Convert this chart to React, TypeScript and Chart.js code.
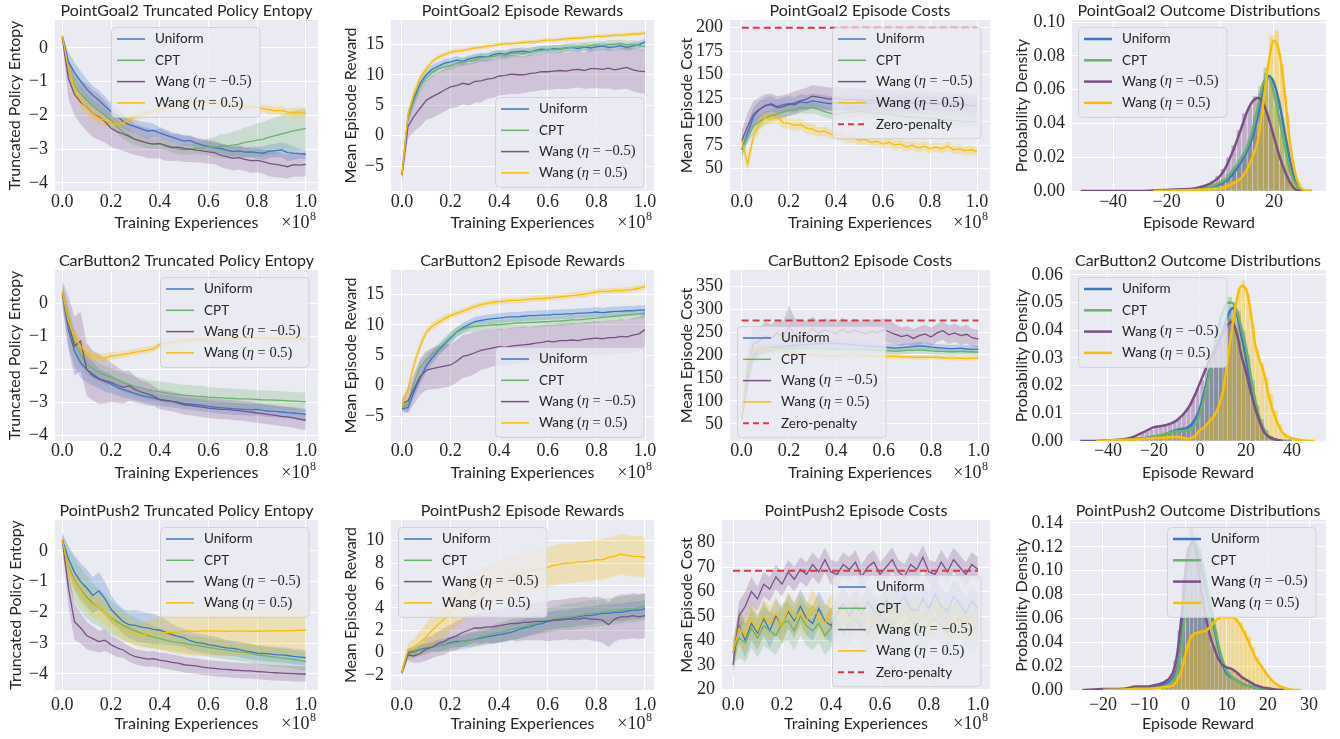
import React, { useEffect, useRef } from "react";
import { Chart, registerables } from "chart.js";

Chart.register(...registerables);

const SANS = "Lato, 'DejaVu Sans', sans-serif";
const SERIF = "'Liberation Serif', 'DejaVu Serif', serif";
const INK = "#262626";

const SERIES = ["Uniform", "CPT", "Wang (η = −0.5)", "Wang (η = 0.5)"];
const ZERO_LABEL = "Zero-penalty";
const COLORS = [[58, 118, 198], [108, 178, 108], [124, 80, 134], [248, 190, 0]];
const RED = "rgb(218,58,66)";

// training progress (x 1e8)
const STEPS = [0, 0.025, 0.05, 0.075, 0.1, 0.125, 0.15, 0.175, 0.2, 0.225, 0.25, 0.275, 0.3, 0.325, 0.35, 0.375, 0.4, 0.425, 0.45, 0.475, 0.5, 0.525, 0.55, 0.575, 0.6, 0.625, 0.65, 0.675, 0.7, 0.725, 0.75, 0.775, 0.8, 0.825, 0.85, 0.875, 0.9, 0.925, 0.95, 0.975, 1.0];
const TS_X_TICKS = [0, 0.2, 0.4, 0.6, 0.8, 1.0];

// ---------- PointGoal2 entropy ----------
const PG_ENT_U = [0.35, -0.42, -0.72, -0.98, -1.22, -1.4, -1.55, -1.72, -1.88, -2.02, -2.18, -2.28, -2.33, -2.4, -2.46, -2.44, -2.52, -2.58, -2.64, -2.7, -2.76, -2.74, -2.82, -2.88, -2.92, -2.96, -2.98, -3.03, -3.07, -3.05, -3.09, -3.08, -3.1, -3.12, -3.06, -3.04, -3.02, -3.1, -3.12, -3.13, -3.15];
const PG_ENT_U_SD = [0.08, 0.3, 0.3, 0.3, 0.3, 0.28, 0.3, 0.28, 0.25, 0.25, 0.22, 0.2, 0.2, 0.22, 0.25, 0.2, 0.18, 0.16, 0.15, 0.15, 0.15, 0.15, 0.15, 0.15, 0.15, 0.15, 0.15, 0.15, 0.15, 0.15, 0.15, 0.16, 0.18, 0.2, 0.2, 0.2, 0.22, 0.25, 0.2, 0.15, 0.15];
const PG_ENT_C = [0.3, -0.7, -1.1, -1.35, -1.55, -1.72, -1.86, -2.0, -2.14, -2.33, -2.5, -2.6, -2.7, -2.77, -2.82, -2.85, -2.84, -2.88, -2.94, -3.0, -3.02, -3.0, -2.98, -2.96, -2.93, -2.94, -2.9, -2.91, -2.88, -2.85, -2.8, -2.77, -2.73, -2.7, -2.64, -2.6, -2.55, -2.5, -2.46, -2.42, -2.38];
const PG_ENT_C_SD = [0.08, 0.25, 0.25, 0.22, 0.2, 0.2, 0.2, 0.2, 0.2, 0.2, 0.2, 0.2, 0.18, 0.16, 0.15, 0.15, 0.15, 0.15, 0.15, 0.15, 0.15, 0.15, 0.16, 0.2, 0.25, 0.3, 0.35, 0.36, 0.4, 0.42, 0.45, 0.46, 0.5, 0.5, 0.52, 0.55, 0.56, 0.58, 0.6, 0.6, 0.62];
const PG_ENT_WN = [0.3, -0.9, -1.38, -1.6, -1.76, -1.95, -2.05, -2.18, -2.38, -2.48, -2.55, -2.62, -2.72, -2.76, -2.82, -2.85, -2.83, -2.9, -2.95, -2.94, -2.98, -3.0, -3.03, -3.05, -3.08, -3.1, -3.18, -3.22, -3.27, -3.25, -3.3, -3.34, -3.33, -3.37, -3.42, -3.45, -3.48, -3.52, -3.46, -3.47, -3.45];
const PG_ENT_WN_SD = [0.15, 0.6, 0.62, 0.65, 0.7, 0.7, 0.68, 0.62, 0.55, 0.52, 0.5, 0.5, 0.46, 0.45, 0.45, 0.42, 0.45, 0.44, 0.4, 0.4, 0.4, 0.38, 0.36, 0.35, 0.35, 0.35, 0.35, 0.36, 0.36, 0.35, 0.35, 0.36, 0.36, 0.36, 0.38, 0.38, 0.36, 0.36, 0.35, 0.35, 0.35];
const PG_ENT_WP = [0.35, -0.62, -1.2, -1.55, -1.78, -1.95, -2.08, -2.15, -2.22, -2.27, -2.22, -2.12, -2.03, -1.96, -1.9, -1.86, -1.82, -1.78, -1.72, -1.7, -1.66, -1.62, -1.6, -1.62, -1.6, -1.63, -1.66, -1.68, -1.7, -1.73, -1.75, -1.72, -1.76, -1.8, -1.83, -1.86, -1.85, -1.9, -1.92, -1.9, -1.95];
const PG_ENT_WP_SD = [0.08, 0.25, 0.2, 0.2, 0.2, 0.18, 0.18, 0.15, 0.15, 0.12, 0.12, 0.12, 0.12, 0.12, 0.1, 0.1, 0.1, 0.1, 0.1, 0.1, 0.1, 0.1, 0.1, 0.1, 0.1, 0.1, 0.1, 0.1, 0.1, 0.1, 0.1, 0.1, 0.1, 0.1, 0.12, 0.12, 0.12, 0.12, 0.14, 0.15, 0.15];

// ---------- PointGoal2 rewards ----------
const PG_REW_U = [-6.5, 3.2, 6.2, 8.6, 10.0, 10.9, 11.4, 11.9, 12.1, 12.4, 12.2, 12.6, 12.8, 13.0, 12.9, 13.3, 13.5, 13.4, 13.7, 13.8, 13.9, 13.7, 14.0, 14.2, 14.1, 14.3, 14.2, 14.4, 14.5, 14.3, 14.6, 14.4, 14.6, 14.7, 14.5, 14.6, 14.8, 14.5, 14.7, 14.9, 15.4];
const PG_REW_U_SD = [0.8, 1.0, 1.0, 0.9, 0.8, 0.8, 0.7, 0.7, 0.7, 0.7, 0.6, 0.6, 0.6, 0.6, 0.6, 0.6, 0.6, 0.6, 0.6, 0.6, 0.6, 0.6, 0.6, 0.6, 0.6, 0.6, 0.6, 0.6, 0.6, 0.6, 0.6, 0.6, 0.6, 0.6, 0.6, 0.6, 0.6, 0.6, 0.6, 0.6, 0.6];
const PG_REW_C = [-6.5, 3.0, 5.8, 8.0, 9.5, 10.4, 11.0, 11.3, 11.5, 11.9, 12.1, 12.3, 12.5, 12.8, 12.9, 13.0, 13.3, 13.2, 13.5, 13.6, 13.5, 13.8, 13.9, 14.0, 14.2, 14.1, 14.3, 14.4, 14.5, 14.6, 14.6, 14.8, 14.9, 14.8, 15.0, 15.0, 15.1, 14.9, 15.0, 14.8, 14.6];
const PG_REW_C_SD = [0.8, 1.0, 1.0, 0.9, 0.8, 0.8, 0.7, 0.7, 0.7, 0.7, 0.7, 0.7, 0.7, 0.7, 0.7, 0.7, 0.7, 0.7, 0.7, 0.7, 0.7, 0.7, 0.7, 0.7, 0.7, 0.7, 0.7, 0.7, 0.7, 0.7, 0.7, 0.7, 0.7, 0.7, 0.7, 0.7, 0.7, 0.7, 0.7, 0.7, 0.7];
const PG_REW_WN = [-6.5, 1.5, 3.2, 4.5, 5.8, 6.4, 6.9, 7.5, 8.0, 8.2, 8.6, 8.4, 8.9, 9.0, 9.3, 9.4, 9.8, 9.9, 10.1, 10.0, 10.0, 10.2, 10.3, 10.5, 10.5, 10.6, 10.7, 10.6, 10.8, 10.9, 10.7, 11.0, 11.0, 10.9, 11.1, 10.8, 11.0, 11.2, 10.8, 10.6, 10.5];
const PG_REW_WN_SD = [1.0, 2.0, 2.5, 3.0, 3.2, 3.5, 3.5, 3.5, 3.5, 3.5, 3.5, 3.5, 3.5, 3.5, 3.2, 3.2, 3.2, 3.2, 3.2, 3.2, 3.0, 3.0, 3.0, 3.0, 3.0, 3.0, 3.0, 3.0, 3.0, 3.0, 3.0, 3.2, 3.2, 3.2, 3.3, 3.3, 3.4, 3.5, 3.5, 3.6, 3.6];
const PG_REW_WP = [-6.5, 3.5, 7.0, 9.5, 11.0, 12.2, 12.9, 13.3, 13.7, 13.9, 14.0, 14.2, 14.4, 14.5, 14.7, 14.8, 15.0, 15.1, 15.1, 15.2, 15.3, 15.4, 15.4, 15.6, 15.7, 15.7, 15.8, 15.9, 16.0, 16.0, 16.1, 16.2, 16.3, 16.3, 16.4, 16.5, 16.5, 16.6, 16.7, 16.7, 16.9];
const PG_REW_WP_SD = [0.8, 0.8, 0.7, 0.6, 0.5, 0.4, 0.4, 0.4, 0.4, 0.4, 0.35, 0.35, 0.35, 0.35, 0.35, 0.35, 0.35, 0.35, 0.35, 0.35, 0.35, 0.35, 0.35, 0.35, 0.35, 0.35, 0.35, 0.35, 0.35, 0.35, 0.35, 0.35, 0.35, 0.35, 0.35, 0.35, 0.35, 0.35, 0.35, 0.35, 0.35];

// ---------- PointGoal2 costs ----------
const PG_COST_U = [70, 88, 105, 113, 117, 119, 116, 118, 119, 118, 121, 120, 122, 121, 120, 119, 120, 121, 119, 120, 121, 120, 119, 121, 120, 119, 120, 121, 119, 120, 118, 119, 120, 118, 119, 120, 118, 119, 118, 117, 117];
const PG_COST_U_SD = [8, 10, 10, 9, 9, 8, 8, 8, 8, 8, 8, 8, 8, 8, 8, 8, 8, 8, 8, 8, 8, 8, 8, 8, 8, 8, 8, 8, 8, 8, 8, 8, 8, 8, 8, 8, 8, 8, 8, 8, 8];
const PG_COST_C = [70, 85, 95, 100, 104, 106, 108, 110, 112, 113, 115, 114, 115, 113, 111, 109, 108, 109, 110, 110, 111, 110, 109, 109, 108, 108, 107, 106, 105, 105, 104, 104, 103, 103, 102, 102, 101, 101, 100, 100, 100];
const PG_COST_C_SD = [6, 8, 8, 7, 7, 6, 6, 6, 6, 6, 6, 6, 6, 6, 6, 6, 6, 6, 6, 6, 6, 6, 6, 6, 6, 6, 6, 6, 6, 6, 6, 6, 6, 6, 6, 6, 6, 6, 6, 6, 6];
const PG_COST_WN = [80, 95, 108, 113, 117, 118, 115, 116, 118, 120, 122, 124, 127, 126, 125, 124, 125, 124, 123, 124, 123, 122, 123, 122, 122, 121, 122, 121, 121, 120, 121, 120, 120, 119, 120, 119, 119, 118, 118, 117, 117];
const PG_COST_WN_SD = [10, 15, 14, 13, 12, 12, 12, 12, 12, 12, 12, 12, 12, 12, 12, 12, 12, 12, 12, 12, 12, 12, 12, 12, 12, 12, 12, 12, 12, 12, 12, 12, 12, 12, 12, 12, 12, 12, 12, 12, 12];
const PG_COST_WP = [80, 55, 85, 97, 104, 103, 105, 99, 98, 96, 97, 93, 92, 89, 90, 87, 86, 85, 82, 83, 80, 81, 78, 79, 76, 78, 75, 76, 73, 75, 72, 74, 71, 73, 71, 74, 70, 71, 69, 70, 68];
const PG_COST_WP_SD = [8, 10, 8, 7, 7, 6, 6, 6, 6, 6, 6, 6, 6, 5, 5, 5, 5, 5, 5, 5, 5, 5, 5, 5, 5, 5, 5, 5, 5, 5, 5, 5, 5, 5, 5, 5, 5, 5, 5, 5, 5];
const PG_COST_LIMIT = 200;

// ---------- CarButton2 entropy ----------
const CB_ENT_U = [0.3, -0.8, -1.45, -1.8, -2.0, -2.15, -2.28, -2.38, -2.45, -2.55, -2.62, -2.68, -2.74, -2.8, -2.84, -2.88, -2.93, -2.96, -2.98, -3.0, -3.04, -3.06, -3.08, -3.1, -3.13, -3.15, -3.17, -3.18, -3.2, -3.21, -3.22, -3.23, -3.22, -3.25, -3.27, -3.28, -3.3, -3.32, -3.33, -3.35, -3.37];
const CB_ENT_U_SD = [0.3, 0.5, 0.5, 0.45, 0.4, 0.35, 0.3, 0.3, 0.28, 0.25, 0.25, 0.22, 0.2, 0.2, 0.2, 0.2, 0.18, 0.18, 0.18, 0.18, 0.18, 0.18, 0.18, 0.18, 0.18, 0.18, 0.18, 0.18, 0.18, 0.18, 0.18, 0.18, 0.18, 0.18, 0.18, 0.18, 0.18, 0.18, 0.18, 0.18, 0.18];
const CB_ENT_C = [0.2, -0.5, -1.2, -1.55, -1.85, -1.98, -2.1, -2.18, -2.24, -2.32, -2.4, -2.46, -2.53, -2.57, -2.62, -2.66, -2.69, -2.72, -2.75, -2.77, -2.79, -2.8, -2.82, -2.83, -2.85, -2.86, -2.87, -2.88, -2.89, -2.9, -2.9, -2.91, -2.92, -2.93, -2.93, -2.94, -2.95, -2.96, -2.97, -2.98, -2.99];
const CB_ENT_C_SD = [0.3, 0.4, 0.4, 0.35, 0.3, 0.3, 0.28, 0.28, 0.28, 0.28, 0.3, 0.3, 0.3, 0.3, 0.3, 0.3, 0.32, 0.32, 0.32, 0.32, 0.32, 0.32, 0.32, 0.32, 0.3, 0.3, 0.3, 0.3, 0.3, 0.3, 0.28, 0.28, 0.28, 0.28, 0.28, 0.28, 0.28, 0.28, 0.28, 0.28, 0.28];
const CB_ENT_WN = [0.3, -0.6, -1.3, -1.15, -2.0, -2.2, -2.3, -2.35, -2.4, -2.48, -2.55, -2.5, -2.62, -2.7, -2.75, -2.82, -2.92, -2.95, -2.98, -3.02, -3.08, -3.1, -3.13, -3.15, -3.18, -3.2, -3.22, -3.22, -3.24, -3.26, -3.28, -3.3, -3.33, -3.35, -3.38, -3.4, -3.43, -3.45, -3.48, -3.52, -3.55];
const CB_ENT_WN_SD = [0.4, 0.8, 0.9, 0.9, 0.8, 0.75, 0.75, 0.7, 0.6, 0.55, 0.5, 0.45, 0.4, 0.35, 0.35, 0.3, 0.3, 0.3, 0.3, 0.3, 0.3, 0.3, 0.3, 0.3, 0.3, 0.3, 0.3, 0.3, 0.3, 0.3, 0.3, 0.3, 0.3, 0.3, 0.3, 0.3, 0.3, 0.3, 0.3, 0.3, 0.3];
const CB_ENT_WP = [0.35, -0.55, -1.05, -1.3, -1.5, -1.6, -1.65, -1.66, -1.6, -1.58, -1.55, -1.52, -1.48, -1.45, -1.42, -1.38, -1.25, -1.22, -1.18, -1.15, -1.12, -1.12, -1.1, -1.1, -1.09, -1.1, -1.08, -1.08, -1.07, -1.06, -1.05, -1.05, -1.04, -1.05, -1.05, -1.06, -1.05, -1.07, -1.06, -1.08, -1.1];
const CB_ENT_WP_SD = [0.1, 0.3, 0.3, 0.25, 0.2, 0.15, 0.15, 0.12, 0.12, 0.1, 0.1, 0.1, 0.1, 0.1, 0.1, 0.1, 0.1, 0.1, 0.1, 0.1, 0.1, 0.1, 0.1, 0.1, 0.1, 0.1, 0.1, 0.1, 0.1, 0.1, 0.1, 0.1, 0.1, 0.1, 0.1, 0.1, 0.1, 0.1, 0.1, 0.1, 0.1];

// ---------- CarButton2 rewards ----------
const CB_REW_U = [-3.8, -3.6, -1.0, 1.2, 3.2, 4.6, 5.8, 6.8, 7.8, 8.8, 9.5, 10.0, 10.5, 10.7, 10.9, 11.0, 11.1, 11.2, 11.3, 11.3, 11.4, 11.5, 11.5, 11.6, 11.6, 11.7, 11.7, 11.8, 11.8, 11.9, 11.9, 12.0, 12.1, 12.0, 12.1, 12.2, 12.2, 12.3, 12.3, 12.4, 12.4];
const CB_REW_U_SD = [0.5, 0.8, 1.0, 1.0, 1.0, 1.0, 0.9, 0.9, 0.9, 0.8, 0.8, 0.8, 0.8, 0.8, 0.8, 0.8, 0.8, 0.8, 0.8, 0.8, 0.8, 0.8, 0.8, 0.8, 0.8, 0.8, 0.8, 0.8, 0.8, 0.8, 0.8, 0.8, 0.8, 0.8, 0.8, 0.8, 0.8, 0.8, 0.8, 0.8, 0.8];
const CB_REW_C = [-3.5, -3.0, 0.5, 3.0, 4.3, 5.2, 6.0, 7.0, 8.0, 8.8, 9.3, 9.6, 9.7, 9.8, 9.9, 10.0, 10.0, 10.1, 10.2, 10.3, 10.3, 10.4, 10.4, 10.5, 10.5, 10.6, 10.6, 10.7, 10.8, 10.8, 10.9, 11.0, 11.1, 11.2, 11.3, 11.4, 11.5, 11.6, 11.7, 11.8, 11.9];
const CB_REW_C_SD = [0.5, 0.8, 1.0, 1.0, 1.0, 1.0, 0.9, 0.9, 0.9, 0.8, 0.8, 0.8, 0.8, 0.8, 0.8, 0.8, 0.8, 0.8, 0.8, 0.8, 0.8, 0.8, 0.8, 0.8, 0.8, 0.8, 0.8, 0.8, 0.8, 0.8, 0.8, 0.8, 0.8, 0.8, 0.8, 0.8, 0.8, 0.8, 0.8, 0.8, 0.8];
const CB_REW_WN = [-3.0, -2.5, -0.5, 1.5, 2.5, 2.8, 3.0, 3.2, 3.4, 4.0, 4.8, 5.0, 5.4, 5.8, 6.0, 6.2, 6.4, 6.3, 6.5, 6.6, 6.7, 6.8, 7.0, 7.1, 7.3, 7.2, 7.4, 7.4, 7.5, 7.4, 7.6, 7.7, 7.8, 7.7, 7.9, 7.9, 8.1, 8.0, 8.3, 8.5, 9.2];
const CB_REW_WN_SD = [1.0, 2.0, 2.5, 3.0, 3.2, 3.4, 3.5, 3.5, 3.5, 3.5, 3.5, 3.5, 3.5, 3.2, 3.2, 3.0, 3.0, 3.0, 3.0, 3.0, 3.0, 2.8, 2.8, 2.8, 2.8, 2.8, 2.8, 2.8, 2.8, 2.8, 2.8, 2.8, 2.8, 2.8, 2.8, 2.8, 2.8, 2.8, 2.8, 2.8, 2.8];
const CB_REW_WP = [-3.5, -0.5, 3.5, 6.5, 8.8, 9.8, 10.4, 11.0, 11.5, 11.9, 12.2, 12.6, 13.0, 13.3, 13.5, 13.7, 13.8, 13.9, 14.0, 14.0, 14.1, 14.2, 14.3, 14.3, 14.4, 14.5, 14.6, 14.7, 14.8, 14.9, 15.0, 15.2, 15.4, 15.5, 15.5, 15.6, 15.6, 15.7, 15.8, 16.0, 16.3];
const CB_REW_WP_SD = [0.8, 0.9, 0.9, 0.8, 0.7, 0.6, 0.6, 0.6, 0.5, 0.5, 0.5, 0.5, 0.5, 0.5, 0.5, 0.5, 0.5, 0.5, 0.5, 0.5, 0.5, 0.5, 0.5, 0.5, 0.5, 0.5, 0.5, 0.5, 0.5, 0.5, 0.5, 0.5, 0.5, 0.5, 0.5, 0.5, 0.5, 0.5, 0.5, 0.5, 0.5];

// ---------- CarButton2 costs ----------
const CB_COST_U = [60, 150, 200, 210, 213, 215, 217, 218, 220, 221, 222, 223, 224, 225, 224, 225, 225, 224, 223, 222, 221, 220, 219, 218, 217, 216, 215, 216, 217, 218, 220, 219, 217, 216, 215, 214, 214, 215, 213, 212, 212];
const CB_COST_U_SD = [10, 30, 15, 10, 9, 8, 8, 8, 8, 8, 8, 8, 8, 8, 8, 8, 8, 8, 8, 8, 8, 8, 8, 8, 8, 8, 8, 8, 8, 8, 8, 8, 8, 8, 8, 8, 8, 8, 8, 8, 8];
const CB_COST_C = [60, 150, 195, 203, 207, 210, 212, 213, 214, 214, 215, 215, 215, 214, 214, 213, 213, 212, 212, 212, 211, 211, 210, 210, 210, 209, 208, 209, 210, 210, 211, 210, 209, 208, 208, 207, 207, 208, 207, 207, 206];
const CB_COST_C_SD = [10, 30, 15, 10, 9, 8, 8, 8, 8, 8, 8, 8, 8, 8, 8, 8, 8, 8, 8, 8, 8, 8, 8, 8, 8, 8, 8, 8, 8, 8, 8, 8, 8, 8, 8, 8, 8, 8, 8, 8, 8];
const CB_COST_WN = [60, 170, 225, 230, 242, 236, 248, 240, 262, 244, 250, 246, 258, 247, 255, 250, 246, 256, 248, 254, 250, 246, 252, 248, 255, 250, 245, 240, 243, 236, 242, 246, 239, 248, 253, 244, 248, 242, 245, 237, 235];
const CB_COST_WN_SD = [10, 40, 35, 30, 30, 30, 30, 32, 45, 35, 28, 28, 25, 25, 25, 25, 25, 25, 25, 25, 25, 25, 25, 25, 25, 25, 22, 20, 20, 20, 20, 20, 20, 20, 20, 20, 20, 20, 20, 20, 20];
const CB_COST_WP = [60, 180, 208, 210, 212, 213, 212, 210, 206, 204, 202, 201, 200, 199, 199, 198, 198, 199, 200, 200, 199, 198, 198, 197, 197, 197, 197, 196, 196, 195, 195, 195, 195, 195, 194, 193, 193, 193, 192, 193, 193];
const CB_COST_WP_SD = [10, 30, 12, 8, 6, 5, 5, 5, 5, 5, 5, 5, 5, 5, 5, 5, 5, 5, 5, 5, 5, 5, 5, 5, 5, 5, 5, 5, 5, 5, 5, 5, 5, 5, 5, 5, 5, 5, 5, 5, 5];
const CB_COST_LIMIT = 275;

// ---------- PointPush2 entropy ----------
const PP_ENT_U = [0.35, -0.25, -0.7, -1.0, -1.2, -1.45, -1.3, -1.55, -1.9, -2.1, -2.3, -2.4, -2.42, -2.48, -2.5, -2.55, -2.58, -2.65, -2.72, -2.78, -2.83, -2.92, -2.98, -3.0, -3.05, -3.08, -3.12, -3.15, -3.17, -3.2, -3.25, -3.28, -3.32, -3.33, -3.35, -3.37, -3.38, -3.4, -3.43, -3.45, -3.47];
const PP_ENT_U_SD = [0.2, 0.4, 0.55, 0.6, 0.6, 0.6, 0.6, 0.55, 0.45, 0.4, 0.4, 0.45, 0.5, 0.5, 0.5, 0.5, 0.45, 0.4, 0.35, 0.3, 0.3, 0.3, 0.3, 0.3, 0.3, 0.3, 0.28, 0.25, 0.25, 0.25, 0.25, 0.25, 0.25, 0.25, 0.25, 0.25, 0.25, 0.25, 0.25, 0.25, 0.25];
const PP_ENT_C = [0.3, -0.5, -0.95, -1.25, -1.5, -1.7, -1.85, -2.0, -2.18, -2.3, -2.42, -2.52, -2.6, -2.68, -2.75, -2.8, -2.85, -2.9, -2.95, -2.98, -3.0, -3.04, -3.07, -3.1, -3.14, -3.17, -3.2, -3.22, -3.25, -3.28, -3.3, -3.33, -3.38, -3.4, -3.43, -3.45, -3.48, -3.5, -3.53, -3.56, -3.6];
const PP_ENT_C_SD = [0.3, 0.6, 0.7, 0.7, 0.7, 0.65, 0.6, 0.6, 0.55, 0.5, 0.5, 0.45, 0.45, 0.4, 0.4, 0.35, 0.35, 0.32, 0.3, 0.3, 0.3, 0.3, 0.3, 0.3, 0.3, 0.3, 0.3, 0.3, 0.3, 0.3, 0.3, 0.3, 0.3, 0.3, 0.3, 0.3, 0.3, 0.3, 0.3, 0.3, 0.3];
const PP_ENT_WN = [0.35, -1.2, -2.3, -2.5, -2.75, -2.85, -2.95, -2.9, -3.05, -3.15, -3.22, -3.35, -3.44, -3.48, -3.52, -3.5, -3.55, -3.58, -3.62, -3.65, -3.7, -3.72, -3.74, -3.78, -3.8, -3.82, -3.84, -3.85, -3.87, -3.88, -3.9, -3.9, -3.92, -3.93, -3.95, -3.96, -3.97, -3.98, -3.99, -4.0, -4.0];
const PP_ENT_WN_SD = [0.2, 0.6, 0.6, 0.5, 0.45, 0.4, 0.35, 0.35, 0.3, 0.3, 0.25, 0.25, 0.25, 0.25, 0.25, 0.25, 0.25, 0.25, 0.25, 0.25, 0.25, 0.25, 0.25, 0.25, 0.25, 0.25, 0.25, 0.25, 0.25, 0.25, 0.25, 0.25, 0.25, 0.25, 0.25, 0.25, 0.25, 0.25, 0.25, 0.25, 0.25];
const PP_ENT_WP = [0.35, -0.6, -1.0, -1.3, -1.6, -1.75, -1.85, -2.0, -2.2, -2.38, -2.5, -2.62, -2.72, -2.75, -2.7, -2.7, -2.68, -2.66, -2.65, -2.64, -2.62, -2.6, -2.62, -2.6, -2.6, -2.61, -2.6, -2.62, -2.6, -2.61, -2.6, -2.62, -2.6, -2.61, -2.6, -2.6, -2.59, -2.6, -2.59, -2.58, -2.58];
const PP_ENT_WP_SD = [0.1, 0.3, 0.35, 0.4, 0.4, 0.4, 0.4, 0.4, 0.4, 0.4, 0.4, 0.4, 0.35, 0.4, 0.45, 0.5, 0.55, 0.6, 0.65, 0.7, 0.75, 0.8, 0.8, 0.8, 0.8, 0.8, 0.8, 0.8, 0.8, 0.8, 0.8, 0.8, 0.8, 0.8, 0.8, 0.8, 0.8, 0.8, 0.8, 0.8, 0.8];

// ---------- PointPush2 rewards ----------
const PP_REW_U = [-1.8, 0.0, 0.1, 0.3, 0.4, 0.5, 0.6, 0.7, 0.9, 1.0, 1.0, 1.1, 1.2, 1.3, 1.4, 1.5, 1.6, 1.7, 1.8, 2.0, 2.2, 2.3, 2.5, 2.6, 2.8, 2.9, 3.0, 3.0, 3.1, 3.2, 3.3, 3.3, 3.4, 3.5, 3.5, 3.6, 3.6, 3.7, 3.8, 3.8, 3.9];
const PP_REW_U_SD = [0.3, 0.4, 0.4, 0.4, 0.4, 0.4, 0.5, 0.5, 0.5, 0.5, 0.5, 0.6, 0.6, 0.6, 0.6, 0.7, 0.7, 0.7, 0.7, 0.8, 0.8, 0.8, 0.8, 0.8, 0.8, 0.8, 0.8, 0.8, 0.8, 0.8, 0.8, 0.8, 0.8, 0.8, 0.8, 0.8, 0.8, 0.8, 0.8, 0.8, 0.8];
const PP_REW_C = [-1.8, -0.1, 0.0, 0.2, 0.3, 0.5, 0.6, 0.7, 0.8, 0.9, 1.0, 1.1, 1.2, 1.4, 1.5, 1.7, 1.8, 1.9, 2.1, 2.2, 2.3, 2.5, 2.6, 2.8, 2.9, 3.0, 3.1, 3.2, 3.2, 3.3, 3.4, 3.5, 3.5, 3.6, 3.7, 3.7, 3.8, 3.9, 3.9, 4.0, 4.1];
const PP_REW_C_SD = [0.3, 0.5, 0.5, 0.5, 0.5, 0.5, 0.6, 0.6, 0.6, 0.6, 0.7, 0.7, 0.7, 0.8, 0.8, 0.8, 0.9, 0.9, 0.9, 1.0, 1.0, 1.0, 1.0, 1.1, 1.1, 1.1, 1.1, 1.2, 1.2, 1.2, 1.2, 1.2, 1.2, 1.2, 1.2, 1.2, 1.2, 1.2, 1.2, 1.2, 1.2];
const PP_REW_WN = [-1.8, -0.2, -0.3, -0.1, 0.3, 0.5, 0.8, 1.0, 1.3, 1.5, 1.8, 2.0, 2.2, 2.2, 2.3, 2.3, 2.4, 2.5, 2.6, 2.6, 2.7, 2.7, 2.8, 2.8, 2.8, 2.9, 2.9, 3.0, 3.0, 3.0, 3.1, 3.0, 3.0, 2.9, 2.5, 3.0, 3.2, 3.2, 3.3, 3.2, 3.3];
const PP_REW_WN_SD = [0.3, 0.5, 0.6, 0.8, 1.0, 1.0, 1.1, 1.2, 1.2, 1.3, 1.3, 1.3, 1.3, 1.4, 1.4, 1.5, 1.5, 1.5, 1.5, 1.6, 1.6, 1.6, 1.7, 1.7, 1.8, 1.8, 1.8, 1.8, 1.9, 1.9, 1.9, 1.9, 2.0, 2.0, 2.0, 2.0, 2.0, 2.0, 2.0, 2.0, 2.0];
const PP_REW_WP = [-1.8, 0.2, 0.5, 0.9, 1.4, 2.0, 2.5, 3.0, 3.6, 4.1, 4.6, 5.0, 5.4, 5.7, 6.0, 6.2, 6.4, 6.6, 6.8, 7.0, 7.1, 7.3, 7.4, 7.5, 7.6, 7.8, 7.9, 8.0, 8.0, 8.1, 8.1, 8.2, 8.3, 8.3, 8.5, 8.6, 8.8, 8.7, 8.6, 8.6, 8.5];
const PP_REW_WP_SD = [0.3, 0.6, 0.8, 1.0, 1.2, 1.4, 1.5, 1.6, 1.7, 1.8, 1.8, 1.8, 1.8, 1.8, 1.8, 1.8, 1.8, 1.8, 1.8, 1.8, 1.8, 1.8, 1.8, 1.8, 1.8, 1.8, 1.8, 1.8, 1.8, 1.8, 1.8, 1.8, 1.8, 1.8, 1.8, 1.8, 1.8, 1.8, 1.8, 1.8, 1.8];

// ---------- PointPush2 costs ----------
const PP_COST_U = [35, 46, 40, 47, 43, 49, 44, 50, 46, 52, 48, 54, 49, 47, 53, 48, 46, 51, 55, 50, 54, 51, 56, 52, 50, 57, 52, 55, 58, 53, 52, 57, 53, 59, 54, 52, 58, 55, 51, 56, 53];
const PP_COST_U_SD = [5, 7, 7, 7, 7, 7, 7, 7, 7, 7, 7, 7, 7, 7, 7, 7, 7, 7, 7, 7, 7, 7, 7, 7, 7, 7, 7, 7, 7, 7, 7, 7, 7, 7, 7, 7, 7, 7, 7, 7, 7];
const PP_COST_C = [35, 41, 39, 45, 41, 46, 44, 42, 47, 48, 44, 50, 46, 44, 47, 42, 45, 48, 43, 47, 49, 45, 43, 48, 44, 49, 46, 43, 47, 49, 45, 43, 47, 49, 46, 43, 47, 49, 45, 44, 46];
const PP_COST_C_SD = [5, 8, 8, 8, 8, 8, 8, 8, 8, 8, 8, 8, 8, 8, 8, 8, 8, 8, 8, 8, 8, 8, 8, 8, 8, 8, 8, 8, 8, 8, 8, 8, 8, 8, 8, 8, 8, 8, 8, 8, 8];
const PP_COST_WN = [30, 50, 54, 60, 57, 63, 61, 66, 63, 68, 65, 69, 67, 71, 68, 73, 68, 67, 71, 69, 72, 66, 70, 72, 67, 70, 73, 68, 66, 71, 69, 74, 68, 67, 72, 68, 73, 70, 67, 71, 69];
const PP_COST_WN_SD = [5, 6, 6, 6, 5, 5, 5, 5, 5, 5, 5, 5, 5, 5, 5, 5, 5, 5, 5, 5, 5, 5, 5, 5, 5, 5, 5, 5, 5, 5, 5, 5, 5, 5, 5, 5, 5, 5, 5, 5, 5];
const PP_COST_WP = [35, 45, 42, 49, 44, 50, 47, 51, 46, 53, 49, 52, 48, 54, 50, 47, 52, 50, 53, 48, 51, 52, 49, 47, 52, 50, 53, 48, 51, 47, 52, 49, 47, 50, 52, 48, 47, 50, 47, 50, 48];
const PP_COST_WP_SD = [5, 7, 7, 7, 7, 7, 7, 7, 7, 7, 7, 7, 7, 7, 7, 7, 7, 7, 7, 7, 7, 7, 7, 7, 7, 7, 7, 7, 7, 7, 7, 7, 7, 7, 7, 7, 7, 7, 7, 7, 7];
const PP_COST_LIMIT = 68.5;

// ---------- Outcome distributions ----------
const PG_BINS = [-11, -9, -7, -5, -3, -1, 1, 3, 5, 7, 9, 11, 13, 15, 17, 19, 21, 23, 25, 27, 29, 31, 33];
const PG_HIST_U = [0.0005, 0.001, 0.001, 0.0015, 0.002, 0.004, 0.006, 0.008, 0.011, 0.016, 0.022, 0.03, 0.042, 0.058, 0.07, 0.066, 0.057, 0.043, 0.026, 0.011, 0.003, 0.001, 0];
const PG_HIST_C = [0.0005, 0.001, 0.001, 0.0015, 0.003, 0.005, 0.007, 0.01, 0.014, 0.018, 0.023, 0.031, 0.045, 0.062, 0.073, 0.064, 0.05, 0.035, 0.019, 0.007, 0.002, 0.001, 0];
const PG_HIST_WN = [0.0015, 0.002, 0.003, 0.004, 0.006, 0.009, 0.013, 0.02, 0.027, 0.036, 0.046, 0.05, 0.056, 0.053, 0.047, 0.037, 0.026, 0.016, 0.008, 0.003, 0.001, 0, 0];
const PG_HIST_WP = [0, 0.0005, 0.001, 0.001, 0.0015, 0.002, 0.003, 0.005, 0.006, 0.008, 0.011, 0.016, 0.024, 0.04, 0.063, 0.092, 0.095, 0.075, 0.045, 0.018, 0.005, 0.001, 0];
const PG_KDE_X = [-52, -45, -40, -35, -30, -25, -20, -15, -10, -6, -3, 0, 2, 4, 6, 8, 10, 12, 14, 16, 18, 20, 22, 24, 26, 28, 30, 32, 34];
const PG_KDE_U = [null, null, null, null, null, null, 0, 0.0003, 0.0008, 0.0015, 0.0025, 0.004, 0.006, 0.009, 0.013, 0.018, 0.024, 0.032, 0.045, 0.06, 0.068, 0.064, 0.052, 0.035, 0.018, 0.006, 0.001, 0, 0];
const PG_KDE_C = [null, null, null, null, null, null, 0, 0.0003, 0.0008, 0.0016, 0.003, 0.005, 0.007, 0.011, 0.015, 0.02, 0.026, 0.036, 0.05, 0.064, 0.067, 0.058, 0.043, 0.027, 0.012, 0.004, 0.001, 0, 0];
const PG_KDE_WN = [0, 0, 0, 0, 0, 0.0003, 0.0006, 0.001, 0.0015, 0.003, 0.005, 0.009, 0.014, 0.021, 0.029, 0.038, 0.047, 0.053, 0.055, 0.052, 0.043, 0.032, 0.021, 0.012, 0.005, 0.001, 0, null, null];
const PG_KDE_WP = [null, null, null, null, null, 0, 0.0002, 0.0004, 0.0006, 0.0009, 0.0012, 0.0016, 0.0025, 0.004, 0.0055, 0.008, 0.013, 0.02, 0.03, 0.052, 0.076, 0.089, 0.082, 0.058, 0.028, 0.01, 0.002, 0.0003, 0];

const CB_BINS = [-25, -23, -21, -19, -17, -15, -13, -11, -9, -7, -5, -3, -1, 1, 3, 5, 7, 9, 11, 13, 15, 17, 19, 21, 23, 25, 27, 29, 31, 33, 35, 37, 39, 41];
const CB_HIST_U = [0.001, 0.0015, 0.002, 0.002, 0.002, 0.0025, 0.003, 0.004, 0.004, 0.005, 0.005, 0.007, 0.01, 0.014, 0.02, 0.026, 0.032, 0.037, 0.042, 0.047, 0.05, 0.047, 0.04, 0.031, 0.022, 0.013, 0.008, 0.004, 0.002, 0.001, 0.0005, 0, 0, 0];
const CB_HIST_C = [0.0005, 0.001, 0.0015, 0.002, 0.0025, 0.003, 0.003, 0.0035, 0.004, 0.004, 0.004, 0.006, 0.009, 0.014, 0.021, 0.03, 0.038, 0.045, 0.049, 0.052, 0.05, 0.045, 0.038, 0.03, 0.02, 0.012, 0.006, 0.003, 0.0015, 0.0005, 0, 0, 0, 0];
const CB_HIST_WN = [0.003, 0.0035, 0.004, 0.005, 0.005, 0.006, 0.0065, 0.007, 0.008, 0.01, 0.012, 0.015, 0.019, 0.022, 0.026, 0.03, 0.033, 0.037, 0.041, 0.044, 0.041, 0.036, 0.029, 0.022, 0.016, 0.01, 0.005, 0.002, 0.001, 0.0005, 0, 0, 0, 0];
const CB_HIST_WP = [0.0005, 0.0008, 0.001, 0.0012, 0.0014, 0.0015, 0.0015, 0.0016, 0.0014, 0.001, 0.001, 0.002, 0.003, 0.004, 0.006, 0.008, 0.01, 0.014, 0.022, 0.034, 0.047, 0.055, 0.058, 0.053, 0.042, 0.033, 0.028, 0.023, 0.017, 0.011, 0.006, 0.003, 0.0015, 0.0005];
const CB_KDE_X = [-52, -45, -40, -35, -30, -25, -20, -15, -10, -5, -2, 0, 2, 4, 6, 8, 10, 12, 14, 16, 18, 20, 22, 24, 26, 28, 30, 33, 36, 40, 45, 50];
const CB_KDE_U = [null, null, 0, 0.0003, 0.0006, 0.001, 0.0015, 0.0025, 0.004, 0.005, 0.008, 0.012, 0.018, 0.025, 0.031, 0.036, 0.04, 0.045, 0.048, 0.046, 0.038, 0.03, 0.02, 0.012, 0.007, 0.0035, 0.0015, 0.0005, 0, 0, null, null];
const CB_KDE_C = [null, null, 0, 0.0003, 0.0005, 0.0008, 0.0015, 0.0025, 0.0035, 0.004, 0.006, 0.01, 0.016, 0.024, 0.033, 0.041, 0.047, 0.05, 0.05, 0.047, 0.041, 0.034, 0.024, 0.015, 0.008, 0.004, 0.0015, 0.0005, 0, 0, null, null];
const CB_KDE_WN = [0, 0, 0.0002, 0.0005, 0.0012, 0.003, 0.005, 0.0057, 0.0075, 0.012, 0.017, 0.021, 0.025, 0.029, 0.032, 0.035, 0.039, 0.042, 0.043, 0.039, 0.031, 0.025, 0.018, 0.012, 0.007, 0.003, 0.0015, 0.0005, 0, null, null, null];
const CB_KDE_WP = [null, 0, 0.0002, 0.0004, 0.0005, 0.0008, 0.001, 0.0013, 0.0015, 0.0009, 0.002, 0.004, 0.005, 0.007, 0.009, 0.012, 0.018, 0.029, 0.041, 0.051, 0.056, 0.055, 0.047, 0.035, 0.029, 0.024, 0.016, 0.008, 0.003, 0.001, 0.0002, 0];

const PP_BINS = [-5.5, -4.5, -3.5, -2.5, -1.5, -0.5, 0.5, 1.5, 2.5, 3.5, 4.5, 5.5, 6.5, 7.5, 8.5, 9.5, 10.5, 11.5, 12.5, 13.5, 14.5, 15.5, 16.5, 17.5, 18.5, 19.5, 20.5, 21.5, 22.5, 23.5, 24.5];
const PP_HIST_U = [0.003, 0.004, 0.006, 0.01, 0.025, 0.06, 0.1, 0.118, 0.12, 0.108, 0.092, 0.08, 0.062, 0.046, 0.03, 0.02, 0.015, 0.011, 0.008, 0.007, 0.005, 0.004, 0.003, 0.002, 0.0015, 0.001, 0.0005, 0, 0, 0, 0];
const PP_HIST_C = [0.002, 0.003, 0.005, 0.009, 0.02, 0.05, 0.09, 0.118, 0.13, 0.118, 0.1, 0.082, 0.065, 0.048, 0.032, 0.022, 0.015, 0.011, 0.008, 0.006, 0.005, 0.004, 0.003, 0.002, 0.0015, 0.001, 0.0005, 0, 0, 0, 0];
const PP_HIST_WN = [0.007, 0.009, 0.013, 0.025, 0.05, 0.09, 0.12, 0.135, 0.115, 0.085, 0.062, 0.048, 0.037, 0.028, 0.022, 0.02, 0.019, 0.017, 0.014, 0.011, 0.008, 0.006, 0.004, 0.003, 0.002, 0.001, 0.0005, 0, 0, 0, 0];
const PP_HIST_WP = [0.002, 0.003, 0.004, 0.006, 0.012, 0.022, 0.038, 0.046, 0.048, 0.049, 0.05, 0.05, 0.054, 0.058, 0.06, 0.062, 0.061, 0.062, 0.06, 0.057, 0.05, 0.045, 0.036, 0.028, 0.021, 0.015, 0.01, 0.007, 0.004, 0.002, 0.001];
const PP_KDE_X = [-25, -20, -15, -12, -9, -7, -5, -3, -2, -1, 0, 1, 2, 3, 4, 5, 6, 7, 8, 9, 10, 11, 12, 13, 14, 15, 16, 17, 18, 19, 20, 22, 24, 26, 28, 32];
const PP_KDE_U = [null, 0, 0.0005, 0.001, 0.002, 0.003, 0.005, 0.01, 0.018, 0.04, 0.08, 0.11, 0.12, 0.115, 0.1, 0.085, 0.07, 0.052, 0.035, 0.022, 0.014, 0.011, 0.009, 0.007, 0.005, 0.004, 0.003, 0.002, 0.0015, 0.001, 0.0005, 0, null, null, null, null];
const PP_KDE_C = [null, 0, 0.0004, 0.0008, 0.0015, 0.002, 0.003, 0.008, 0.015, 0.035, 0.07, 0.105, 0.123, 0.12, 0.108, 0.09, 0.072, 0.055, 0.038, 0.025, 0.016, 0.012, 0.009, 0.007, 0.005, 0.004, 0.003, 0.002, 0.0015, 0.001, 0.0005, 0, null, null, null, null];
const PP_KDE_WN = [0, 0.0008, 0.001, 0.003, 0.003, 0.0045, 0.007, 0.015, 0.03, 0.06, 0.1, 0.12, 0.124, 0.105, 0.08, 0.06, 0.045, 0.035, 0.026, 0.021, 0.019, 0.018, 0.016, 0.013, 0.01, 0.008, 0.006, 0.004, 0.003, 0.002, 0.0015, 0.0005, 0, null, null, null];
const PP_KDE_WP = [null, 0, 0.0005, 0.001, 0.001, 0.0015, 0.0025, 0.004, 0.008, 0.016, 0.03, 0.042, 0.047, 0.048, 0.049, 0.05, 0.053, 0.057, 0.06, 0.061, 0.061, 0.061, 0.06, 0.056, 0.05, 0.043, 0.035, 0.027, 0.022, 0.017, 0.012, 0.005, 0.0017, 0.0003, 0, null];

// ---------- axis ticks ----------
const ENT_Y_TICKS = [-4, -3, -2, -1, 0];
const REW_Y_TICKS = [-5, 0, 5, 10, 15];
const PG_COST_Y_TICKS = [50, 75, 100, 125, 150, 175, 200];
const CB_COST_Y_TICKS = [50, 100, 150, 200, 250, 300, 350];
const PP_REW_Y_TICKS = [-2, 0, 2, 4, 6, 8, 10];
const PP_COST_Y_TICKS = [20, 30, 40, 50, 60, 70, 80];
const PG_DIST_X_TICKS = [-40, -20, 0, 20];
const PG_DIST_Y_TICKS = [0, 0.02, 0.04, 0.06, 0.08, 0.1];
const CB_DIST_X_TICKS = [-40, -20, 0, 20, 40];
const CB_DIST_Y_TICKS = [0, 0.01, 0.02, 0.03, 0.04, 0.05, 0.06];
const PP_DIST_X_TICKS = [-20, -10, 0, 10, 20, 30];
const PP_DIST_Y_TICKS = [0, 0.02, 0.04, 0.06, 0.08, 0.1, 0.12, 0.14];

// ---------- layout ----------
const COL_X = [0, 335, 670, 1005];
const COL_W = 335;
const ROWS = [
  { y: 0, h: 248, titleBase: 16, xTickY: 202, xTitleY: 223 },
  { y: 248, h: 247, titleBase: 266, xTickY: 451, xTitleY: 473 },
  { y: 495, h: 244, titleBase: 516, xTickY: 705, xTitleY: 724 },
];

const rgba = (c: number[], a: number) => `rgba(${c[0]},${c[1]},${c[2]},${a})`;
const fmt = (v: number, d: number) => {
  const s = Math.abs(v) < 1e-9 ? (0).toFixed(d) : v.toFixed(d);
  return s.replace("-", "\u2212");
};

function tsSpec(row: number, col: number, o: any) {
  return { kind: "ts", row, col, xTitle: "Training Experiences", xTicks: TS_X_TICKS, xDec: 1, yDec: 0, ...o };
}
function distSpec(row: number, col: number, o: any) {
  return { kind: "dist", row, col, xTitle: "Episode Reward", yTitle: "Probability Density", xDec: 0, yDec: 2, ...o };
}

const SPECS: any[] = [
  tsSpec(0, 0, {
    title: "PointGoal2 Truncated Policy Entopy", yTitle: "Truncated Policy Entopy",
    plot: [55, 20, 318, 191], xRange: [-0.03, 1.05], yRange: [-4.24, 0.83], yTicks: ENT_Y_TICKS, yTitleX: 15, legend: [111, 27],
    means: [PG_ENT_U, PG_ENT_C, PG_ENT_WN, PG_ENT_WP], sds: [PG_ENT_U_SD, PG_ENT_C_SD, PG_ENT_WN_SD, PG_ENT_WP_SD],
  }),
  tsSpec(0, 1, {
    title: "PointGoal2 Episode Rewards", yTitle: "Mean Episode Reward",
    plot: [391, 20, 654, 191], xRange: [-0.045, 1.037], yRange: [-9.1, 19.0], yTicks: REW_Y_TICKS, yTitleX: 351, legend: [495, 97],
    means: [PG_REW_U, PG_REW_C, PG_REW_WN, PG_REW_WP], sds: [PG_REW_U_SD, PG_REW_C_SD, PG_REW_WN_SD, PG_REW_WP_SD],
  }),
  tsSpec(0, 2, {
    title: "PointGoal2 Episode Costs", yTitle: "Mean Episode Cost",
    plot: [730, 20, 990, 191], xRange: [-0.05, 1.055], yRange: [26.1, 208.2], yTicks: PG_COST_Y_TICKS, yTitleX: 687, legend: [832, 27],
    means: [PG_COST_U, PG_COST_C, PG_COST_WN, PG_COST_WP], sds: [PG_COST_U_SD, PG_COST_C_SD, PG_COST_WN_SD, PG_COST_WP_SD], limit: PG_COST_LIMIT,
  }),
  distSpec(0, 3, {
    title: "PointGoal2 Outcome Distributions",
    plot: [1072, 20, 1326, 191], xRange: [-55.3, 39.4], yRange: [0, 0.1012], xTicks: PG_DIST_X_TICKS, yTicks: PG_DIST_Y_TICKS, yTitleX: 1022, legend: [1078, 27],
    bins: PG_BINS, hists: [PG_HIST_U, PG_HIST_C, PG_HIST_WN, PG_HIST_WP], kdeX: PG_KDE_X, kdes: [PG_KDE_U, PG_KDE_C, PG_KDE_WN, PG_KDE_WP],
  }),
  tsSpec(1, 0, {
    title: "CarButton2 Truncated Policy Entopy", yTitle: "Truncated Policy Entopy",
    plot: [55, 270, 318, 441], xRange: [-0.03, 1.05], yRange: [-4.18, 1.01], yTicks: ENT_Y_TICKS, yTitleX: 15, legend: [160, 277],
    means: [CB_ENT_U, CB_ENT_C, CB_ENT_WN, CB_ENT_WP], sds: [CB_ENT_U_SD, CB_ENT_C_SD, CB_ENT_WN_SD, CB_ENT_WP_SD],
  }),
  tsSpec(1, 1, {
    title: "CarButton2 Episode Rewards", yTitle: "Mean Episode Reward",
    plot: [391, 270, 654, 441], xRange: [-0.045, 1.037], yRange: [-9.1, 19.0], yTicks: REW_Y_TICKS, yTitleX: 351, legend: [495, 347],
    means: [CB_REW_U, CB_REW_C, CB_REW_WN, CB_REW_WP], sds: [CB_REW_U_SD, CB_REW_C_SD, CB_REW_WN_SD, CB_REW_WP_SD],
  }),
  tsSpec(1, 2, {
    title: "CarButton2 Episode Costs", yTitle: "Mean Episode Cost",
    plot: [730, 270, 990, 441], xRange: [-0.049, 1.049], yRange: [12.7, 385], yTicks: CB_COST_Y_TICKS, yTitleX: 687, legend: [737, 326],
    means: [CB_COST_U, CB_COST_C, CB_COST_WN, CB_COST_WP], sds: [CB_COST_U_SD, CB_COST_C_SD, CB_COST_WN_SD, CB_COST_WP_SD], limit: CB_COST_LIMIT,
  }),
  distSpec(1, 3, {
    title: "CarButton2 Outcome Distributions",
    plot: [1070, 270, 1326, 441], xRange: [-56.5, 54.8], yRange: [0, 0.0618], xTicks: CB_DIST_X_TICKS, yTicks: CB_DIST_Y_TICKS, yTitleX: 1022, legend: [1078, 277],
    bins: CB_BINS, hists: [CB_HIST_U, CB_HIST_C, CB_HIST_WN, CB_HIST_WP], kdeX: CB_KDE_X, kdes: [CB_KDE_U, CB_KDE_C, CB_KDE_WN, CB_KDE_WP],
  }),
  tsSpec(2, 0, {
    title: "PointPush2 Truncated Policy Entopy", yTitle: "Truncated Policy Entopy",
    plot: [55, 520, 318, 690], xRange: [-0.03, 1.05], yRange: [-4.52, 1.0], yTicks: ENT_Y_TICKS, yTitleX: 16, legend: [160, 527],
    means: [PP_ENT_U, PP_ENT_C, PP_ENT_WN, PP_ENT_WP], sds: [PP_ENT_U_SD, PP_ENT_C_SD, PP_ENT_WN_SD, PP_ENT_WP_SD],
  }),
  tsSpec(2, 1, {
    title: "PointPush2 Episode Rewards", yTitle: "Mean Episode Reward",
    plot: [391, 520, 654, 690], xRange: [-0.044, 1.037], yRange: [-3.34, 11.85], yTicks: PP_REW_Y_TICKS, yTitleX: 351, legend: [398, 527],
    means: [PP_REW_U, PP_REW_C, PP_REW_WN, PP_REW_WP], sds: [PP_REW_U_SD, PP_REW_C_SD, PP_REW_WN_SD, PP_REW_WP_SD],
  }),
  tsSpec(2, 2, {
    title: "PointPush2 Episode Costs", yTitle: "Mean Episode Cost",
    plot: [722, 520, 990, 690], xRange: [-0.045, 1.049], yRange: [19.8, 89.2], yTicks: PP_COST_Y_TICKS, yTitleX: 687, legend: [832, 575],
    means: [PP_COST_U, PP_COST_C, PP_COST_WN, PP_COST_WP], sds: [PP_COST_U_SD, PP_COST_C_SD, PP_COST_WN_SD, PP_COST_WP_SD], limit: PP_COST_LIMIT,
  }),
  distSpec(2, 3, {
    title: "PointPush2 Outcome Distributions",
    plot: [1070, 520, 1326, 690], xRange: [-28, 34.1], yRange: [0, 0.1425], xTicks: PP_DIST_X_TICKS, yTicks: PP_DIST_Y_TICKS, yTitleX: 1022, legend: [1167, 527],
    bins: PP_BINS, hists: [PP_HIST_U, PP_HIST_C, PP_HIST_WN, PP_HIST_WP], kdeX: PP_KDE_X, kdes: [PP_KDE_U, PP_KDE_C, PP_KDE_WN, PP_KDE_WP],
  }),
];

function buildDatasets(spec: any) {
  const ds: any[] = [];
  if (spec.kind === "ts") {
    spec.means.forEach((m: number[], i: number) => {
      const sd = spec.sds[i];
      ds.push({ type: "line", data: STEPS.map((x, k) => ({ x, y: m[k] + sd[k] })), borderWidth: 0, borderColor: "rgba(0,0,0,0)", pointRadius: 0, fill: "+1", backgroundColor: rgba(COLORS[i], 0.25), order: 8 - i });
      ds.push({ type: "line", data: STEPS.map((x, k) => ({ x, y: m[k] - sd[k] })), borderWidth: 0, borderColor: "rgba(0,0,0,0)", pointRadius: 0, fill: false, order: 8 - i });
    });
    spec.means.forEach((m: number[], i: number) => {
      ds.push({ type: "line", data: STEPS.map((x, k) => ({ x, y: m[k] })), borderColor: rgba(COLORS[i], 1), borderWidth: 1.3, pointRadius: 0, fill: false, order: 4 - i });
    });
    if (spec.limit != null) {
      ds.push({ type: "line", data: [{ x: STEPS[0], y: spec.limit }, { x: STEPS[STEPS.length - 1], y: spec.limit }], borderColor: RED, borderWidth: 2, borderDash: [7, 4], pointRadius: 0, fill: false, order: 0 });
    }
  } else {
    spec.hists.forEach((h: number[], i: number) => {
      ds.push({ type: "bar", data: spec.bins.map((x: number, k: number) => ({ x, y: h[k] })), backgroundColor: rgba(COLORS[i], 0.4), borderWidth: 0, grouped: false, barPercentage: 1, categoryPercentage: 0.86, order: 8 - i });
    });
    spec.kdes.forEach((kd: (number | null)[], i: number) => {
      ds.push({ type: "line", data: spec.kdeX.map((x: number, k: number) => ({ x, y: kd[k] })), borderColor: rgba(COLORS[i], 1), borderWidth: 2.5, pointRadius: 0, fill: false, cubicInterpolationMode: "monotone", spanGaps: false, order: 4 - i });
    });
  }
  return ds;
}

function drawRich(ctx: CanvasRenderingContext2D, text: string, x: number, y: number, size: number, measureOnly = false) {
  const i = text.indexOf("(");
  const parts: [string, string][] = i < 0
    ? [[text, `${size}px ${SANS}`]]
    : [
        [text.slice(0, i), `${size}px ${SANS}`],
        ["(", `${size + 1}px ${SERIF}`],
        ["η", `italic ${size + 1}px ${SERIF}`],
        [text.slice(i + 2), `${size + 1}px ${SERIF}`],
      ];
  let cx = x;
  for (const [t, f] of parts) {
    ctx.font = f;
    if (!measureOnly) ctx.fillText(t, cx, y);
    cx += ctx.measureText(t).width;
  }
  return cx - x;
}

function decorations(spec: any) {
  const row = ROWS[spec.row];
  const cx = COL_X[spec.col];
  const cy = row.y;
  return {
    id: "decor",
    beforeDraw(chart: any) {
      const { ctx, chartArea: a } = chart;
      ctx.save();
      ctx.fillStyle = "#EAEAF2";
      ctx.fillRect(a.left, a.top, a.right - a.left, a.bottom - a.top);
      ctx.restore();
    },
    afterDraw(chart: any) {
      const { ctx, chartArea: a } = chart;
      ctx.save();
      ctx.fillStyle = INK;
      ctx.font = `16px ${SANS}`;
      ctx.textAlign = "center";
      ctx.textBaseline = "alphabetic";
      ctx.fillText(spec.title, (a.left + a.right) / 2, row.titleBase - cy);
      if (spec.kind === "ts") {
        const base = row.xTitleY - cy + 5;
        const xEnd = a.right - 2;
        ctx.font = `12px ${SERIF}`;
        const sw = ctx.measureText("8").width;
        ctx.textAlign = "left";
        ctx.fillText("8", xEnd - sw, base - 8);
        ctx.font = `18px ${SERIF}`;
        ctx.textAlign = "right";
        ctx.fillText("×10", xEnd - sw - 0.5, base);
      }
      const entries: any[] = SERIES.map((s, i) => ({ label: s, color: rgba(COLORS[i], 1), dash: [] as number[] }));
      if (spec.limit != null) entries.push({ label: ZERO_LABEL, color: RED, dash: [6, 4] });
      const fs = 13.5;
      ctx.textAlign = "left";
      ctx.textBaseline = "middle";
      let maxW = 0;
      for (const e of entries) maxW = Math.max(maxW, drawRich(ctx, e.label, 0, 0, fs, true));
      const bx = spec.legend[0] - cx;
      const by = spec.legend[1] - cy;
      const rowH = 21.3;
      const bw = 6 + 28 + 10 + maxW + 8;
      const bh = 12 + (entries.length - 1) * rowH + 14;
      ctx.beginPath();
      if ((ctx as any).roundRect) (ctx as any).roundRect(bx + 0.5, by + 0.5, bw, bh, 4);
      else ctx.rect(bx + 0.5, by + 0.5, bw, bh);
      ctx.fillStyle = "rgba(234,234,242,0.8)";
      ctx.fill();
      ctx.strokeStyle = "rgba(204,204,204,0.8)";
      ctx.lineWidth = 1;
      ctx.stroke();
      entries.forEach((e, k) => {
        const ry = by + 12 + k * rowH;
        ctx.beginPath();
        ctx.setLineDash(e.dash);
        ctx.strokeStyle = e.color;
        ctx.lineWidth = spec.kind === "dist" ? 2.5 : e.dash.length ? 2 : 1.5;
        ctx.moveTo(bx + 6, ry);
        ctx.lineTo(bx + 34, ry);
        ctx.stroke();
        ctx.setLineDash([]);
        ctx.fillStyle = INK;
        drawRich(ctx, e.label, bx + 44, ry, fs);
      });
      ctx.restore();
    },
  };
}

function makeConfig(spec: any) {
  const row = ROWS[spec.row];
  const cx = COL_X[spec.col];
  const cy = row.y;
  const cw = COL_W;
  const ch = row.h;
  const [pl, pt, pr, pb] = spec.plot;
  const TICK = 18;
  const LAB = 16;
  return {
    type: "line",
    data: { datasets: buildDatasets(spec) },
    options: {
      animation: false,
      responsive: false,
      devicePixelRatio: 1,
      events: [],
      layout: { padding: { left: 0, top: pt - cy, right: cx + cw - pr, bottom: 0 } },
      plugins: { legend: { display: false }, tooltip: { enabled: false }, title: { display: false } },
      scales: {
        x: {
          type: "linear",
          offset: false,
          min: spec.xRange[0],
          max: spec.xRange[1],
          afterBuildTicks: (s: any) => { s.ticks = spec.xTicks.map((v: number) => ({ value: v })); },
          afterFit: (s: any) => { s.height = cy + ch - pb; },
          grid: { color: "#ffffff", lineWidth: 1, drawTicks: false, offset: false },
          border: { display: false },
          ticks: {
            padding: row.xTickY - pb - TICK / 2,
            font: { family: SERIF, size: TICK, lineHeight: 1 },
            color: INK,
            autoSkip: false,
            maxRotation: 0,
            callback: (v: any) => fmt(Number(v), spec.xDec),
          },
          title: {
            display: true,
            text: spec.xTitle,
            color: INK,
            font: { family: SANS, size: LAB, lineHeight: 1 },
            padding: { top: 0, bottom: cy + ch - row.xTitleY - LAB / 2 },
          },
        },
        y: {
          type: "linear",
          offset: false,
          beginAtZero: false,
          min: spec.yRange[0],
          max: spec.yRange[1],
          afterBuildTicks: (s: any) => { s.ticks = spec.yTicks.map((v: number) => ({ value: v })); },
          afterFit: (s: any) => { s.width = pl - cx; },
          grid: { color: "#ffffff", lineWidth: 1, drawTicks: false, offset: false },
          border: { display: false },
          ticks: {
            padding: 7,
            font: { family: SERIF, size: TICK, lineHeight: 1 },
            color: INK,
            autoSkip: false,
            callback: (v: any) => fmt(Number(v), spec.yDec),
          },
          title: {
            display: true,
            text: spec.yTitle,
            color: INK,
            font: { family: SANS, size: LAB, lineHeight: 1 },
            padding: { top: spec.yTitleX - cx - LAB / 2, bottom: 0 },
          },
        },
      },
    },
    plugins: [decorations(spec)],
  };
}

function Panel({ spec }: { spec: any }) {
  const ref = useRef<HTMLCanvasElement | null>(null);
  useEffect(() => {
    const chart = new Chart(ref.current as HTMLCanvasElement, makeConfig(spec) as any);
    return () => chart.destroy();
  }, [spec]);
  const row = ROWS[spec.row];
  const x = COL_X[spec.col];
  return (
    <canvas
      ref={ref}
      width={COL_W}
      height={row.h}
      style={{ position: "absolute", left: x, top: row.y, width: COL_W, height: row.h }}
    />
  );
}

export default function App() {
  return (
    <div style={{ position: "absolute", left: 0, top: 0, width: 1340, height: 739, background: "#ffffff", overflow: "hidden" }}>
      {SPECS.map((s, i) => (
        <Panel key={i} spec={s} />
      ))}
    </div>
  );
}
